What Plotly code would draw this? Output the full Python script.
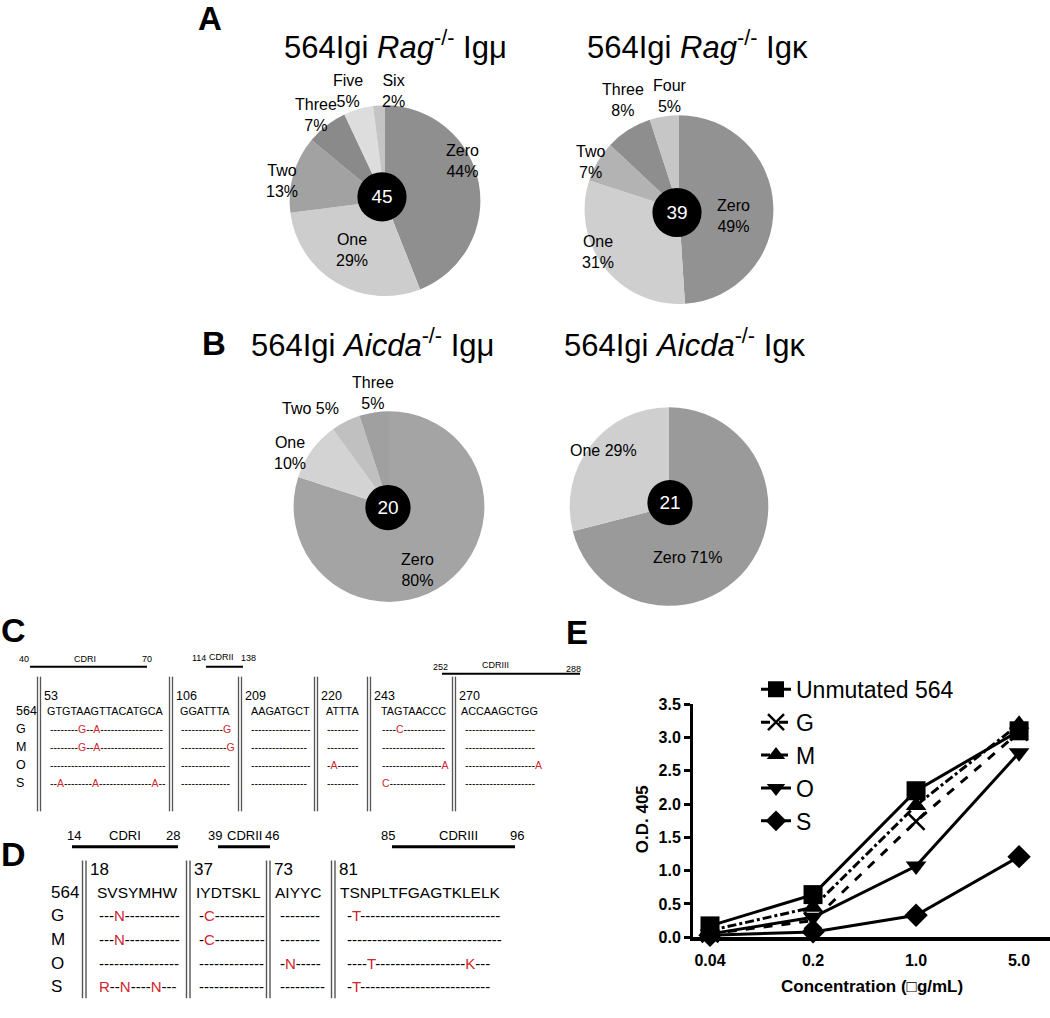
import plotly.graph_objects as go

W, H = 1050, 1018

# ---------------- Panel A / B : pie data ----------------
rag_mu_labels = ["Zero", "One", "Two", "Three", "Five", "Six"]
rag_mu_values = [44, 29, 13, 7, 5, 2]
rag_mu_total = 45
rag_k_labels = ["Zero", "One", "Two", "Three", "Four"]
rag_k_values = [49, 31, 7, 8, 5]
rag_k_total = 39
aicda_mu_labels = ["Zero", "One", "Two", "Three"]
aicda_mu_values = [80, 10, 5, 5]
aicda_mu_total = 20
aicda_k_labels = ["Zero", "One"]
aicda_k_values = [71, 29]
aicda_k_total = 21

# ---------------- Panel C : nucleotide alignment ----------------
c_positions = ["53", "106", "209", "220", "243", "270"]
c_reference = ["GTGTAAGTTACATGCA", "GGATTTA", "AAGATGCT", "ATTTA", "TAGTAACCC", "ACCAAGCTGG"]
c_clones = ["G", "M", "O", "S"]
c_rows = {
    "G": ["--------G--A------------------", "------------G", "-----------------", "---------",
          "----C------------", "--------------------"],
    "M": ["--------G--A------------------", "-------------G", "----------------", "---------",
          "------------------", "--------------------"],
    "O": ["---------------------------------", "--------------", "-----------------", "-A------",
          "-----------------A", "--------------------A"],
    "S": ["--A--------A---------------A--", "--------------", "----------------", "---------",
          "C----------------", "--------------------"],
}
c_cdr = [("40", "CDRI", "70"), ("114", "CDRII", "138"), ("252", "CDRIII", "288")]

# ---------------- Panel D : amino-acid alignment ----------------
d_positions = ["18", "37", "73", "81"]
d_reference = ["SVSYMHW", "IYDTSKL", "AIYYC", "TSNPLTFGAGTKLELK"]
d_clones = ["G", "M", "O", "S"]
d_rows = {
    "G": ["---N-----------", "-C----------", "--------", "-T----------------------------"],
    "M": ["---N-----------", "-C----------", "--------", "-------------------------------"],
    "O": ["----------------", "-------------", "-N-----", "----T------------------K---"],
    "S": ["R--N----N---", "-------------", "---------", "-T--------------------------"],
}
d_cdr = [("14", "CDRI", "28"), ("39", "CDRII", "46"), ("85", "CDRIII", "96")]

# ---------------- Panel E : ELISA ----------------
conc_labels = ["0.04", "0.2", "1.0", "5.0"]
od_unmutated = [0.17, 0.64, 2.20, 3.10]
od_G = [0.05, 0.25, 1.74, 3.08]
od_M = [0.10, 0.45, 1.98, 3.20]
od_O = [0.05, 0.30, 1.07, 2.77]
od_S = [0.03, 0.08, 0.33, 1.21]

# label placement (layout, pixels)
rag_mu_label_xy = [(462, 156), (352, 246), (282, 176), (316, 109), (348, 84), (393, 84)]
rag_k_label_xy = [(733, 212), (598, 248), (590, 157), (623, 94), (670, 90)]
aicda_mu_label_xy = [(417, 572), (290, 453), (310, 407), (373, 392)]
aicda_k_label_xy = [(687, 559), (603, 450)]


def X(px):
    return px / W


def Y(py):
    return 1 - py / H


fig = go.Figure()
annotations = []
shapes = []
ARIAL = "Arial, Liberation Sans, sans-serif"
RED = "#d0262d"


def ann(text, x, y, size, xanchor="center", yanchor="middle", color="black", family=ARIAL,
        weight="normal", textangle=0):
    annotations.append(dict(text=text, x=X(x), y=Y(y), xref="paper", yref="paper",
                            xanchor=xanchor, yanchor=yanchor, showarrow=False, textangle=textangle,
                            font=dict(size=size, color=color, family=family, weight=weight)))


def line(x0, y0, x1, y1, width, color="black"):
    shapes.append(dict(type="line", xref="paper", yref="paper", x0=X(x0), y0=Y(y0), x1=X(x1), y1=Y(y1),
                       line=dict(color=color, width=width)))


def add_pie(labels, values, colors, cx, cy, r, label_xy, seps, total, bcx, bcy, br):
    fig.add_trace(go.Pie(
        labels=labels, values=values, sort=False, direction="clockwise", rotation=0,
        marker=dict(colors=colors, line=dict(width=0)), textinfo="none",
        domain=dict(x=[X(cx - r), X(cx + r)], y=[Y(cy + r), Y(cy - r)]),
        showlegend=False, hoverinfo="skip"))
    for lab, val, (lx, ly), sep in zip(labels, values, label_xy, seps):
        ann("%s%s%d%%" % (lab, sep, val), lx, ly, 16)
    fig.add_trace(go.Pie(
        labels=["n"], values=[total], sort=False, marker=dict(colors=["black"], line=dict(width=0)),
        texttemplate="%{value}", textposition="inside",
        textfont=dict(family=ARIAL, size=19, color="white"),
        domain=dict(x=[X(bcx - br), X(bcx + br)], y=[Y(bcy + br), Y(bcy - br)]),
        showlegend=False, hoverinfo="skip"))


BR = "<br>"
# Panel A
add_pie(rag_mu_labels, rag_mu_values,
        ["#8f8f8f", "#cdcdcd", "#a2a2a2", "#8a8a8a", "#dddddd", "#c4c4c4"],
        385, 196, 97, rag_mu_label_xy, [BR] * 6, rag_mu_total, 382, 192, 25)
add_pie(rag_k_labels, rag_k_values,
        ["#929292", "#cfcfcf", "#b3b3b3", "#8e8e8e", "#c6c6c6"],
        679, 205, 96, rag_k_label_xy, [BR] * 5, rag_k_total, 677, 208, 25)
# Panel B
add_pie(aicda_mu_labels, aicda_mu_values,
        ["#a4a4a4", "#d3d3d3", "#c0c0c0", "#a0a0a0"],
        389, 507, 97, aicda_mu_label_xy, [BR, BR, " ", BR], aicda_mu_total, 388, 508, 23)
add_pie(aicda_k_labels, aicda_k_values,
        ["#9a9a9a", "#cfcfcf"],
        669, 507, 101, aicda_k_label_xy, [" ", " "], aicda_k_total, 670, 503, 23)

# Panel letters and titles
ann("A", 210, 11, 33, weight="bold")
ann("B", 214, 341, 33, weight="bold")
ann("C", 13, 633, 34, weight="bold")
ann("D", 13, 860, 34, weight="bold")
ann("E", 577, 635, 33, weight="bold")
ann("564Igi <i>Rag</i><sup>-/-</sup> Igμ", 395, 38, 31)
ann("564Igi <i>Rag</i><sup>-/-</sup> Igκ", 697, 38, 31)
ann("564Igi <i>Aicda</i><sup>-/-</sup> Igμ", 372, 341, 31)
ann("564Igi <i>Aicda</i><sup>-/-</sup> Igκ", 685, 341, 31)


def colorize(s):
    out = ""
    for ch in s:
        out += ch if ch == "-" else "<span style='color:%s'>%s</span>" % (RED, ch)
    return out


# ---------------- Panel C layout ----------------
c_bars = [(30, 147, 670), (206, 243, 670), (442, 580, 677)]
c_bar_labels = [((24, 662), (85, 662), (147, 662)), ((199, 661), (221, 660), (248, 661)),
                ((440, 670), (495, 668), (573, 672))]
for (x0, x1, yb), (l, m, rr), pos in zip(c_bars, c_cdr, c_bar_labels):
    line(x0, yb, x1, yb, 2)
    ann(l, pos[0][0], pos[0][1], 9)
    ann(m, pos[1][0], pos[1][1], 9)
    ann(rr, pos[2][0], pos[2][1], 9)
c_sep = [37.5, 169.5, 238.5, 314.5, 367.5, 452.5]
for xs in c_sep:
    line(xs, 680, xs, 817, 1.3, "#555555")
    line(xs + 3, 680, xs + 3, 817, 1.3, "#555555")
c_seg_start = [48, 179, 249, 325, 380, 463]
c_seg_center = [105, 205, 280, 342, 413, 499]
c_row_y = {"564": 715, "G": 733, "M": 752, "O": 770, "S": 788}
ann("564", 14, c_row_y["564"], 12.5, xanchor="left")
for i, p in enumerate(c_positions):
    ann(p, c_sep[i] + 4, 700, 12.5, xanchor="left")
    ann(c_reference[i], c_seg_center[i], c_row_y["564"], 10.8)
for cl in c_clones:
    ann(cl, 14, c_row_y[cl], 12.5, xanchor="left")
    for i, s in enumerate(c_rows[cl]):
        ann(colorize(s), c_seg_start[i], c_row_y[cl], 10.5, xanchor="left")

# ---------------- Panel D layout ----------------
d_bars = [(72, 178), (218, 270), (392, 515)]
d_bar_labels = [(74, 125, 173), (215, 244, 272), (388, 458, 517)]
for (x0, x1), (l, m, rr), (xl, xm, xr) in zip(d_bars, d_cdr, d_bar_labels):
    line(x0, 853, x1, 853, 3)
    ann(l, xl, 842, 13)
    ann(m, xm, 842, 13)
    ann(rr, xr, 842, 13)
d_sep = [82.5, 186.5, 266.5, 331.5]
for xs in d_sep:
    line(xs, 867, xs, 1007, 1.4, "#555555")
    line(xs + 3.5, 867, xs + 3.5, 1007, 1.4, "#555555")
d_seg_start = [97, 197, 278, 345]
d_seg_center = [137, 228, 298, 420]
d_row_y = {"564": 900, "G": 923, "M": 947, "O": 972, "S": 995}
ann("564", 49, d_row_y["564"], 17, xanchor="left")
for i, p in enumerate(d_positions):
    ann(p, d_sep[i] + 5, 876, 17, xanchor="left")
    ann(d_reference[i], d_seg_center[i], d_row_y["564"], 15.5)
for cl in d_clones:
    ann(cl, 49, d_row_y[cl], 17, xanchor="left")
    for i, s in enumerate(d_rows[cl]):
        ann(colorize(s), d_seg_start[i], d_row_y[cl], 15, xanchor="left")

# ---------------- Panel E ----------------
series = [
    ("Unmutated 564", od_unmutated, "square", "solid", 19),
    ("G", od_G, "x-thin", "dash", 17),
    ("M", od_M, "triangle-up", "dashdot", 18),
    ("O", od_O, "triangle-down", "solid", 18),
    ("S", od_S, "diamond", "solid", 18),
]
for name, vals, sym, dash, size in series:
    mk = dict(symbol=sym, size=size, color="black")
    if sym == "x-thin":
        mk["line"] = dict(width=2.5, color="black")
    fig.add_trace(go.Scatter(x=conc_labels, y=vals, name=name, mode="lines+markers",
                             line=dict(color="black", width=3, dash=dash), marker=mk,
                             xaxis="x", yaxis="y", cliponaxis=False))

ann("O.D. 405", 642, 825, 17, weight="bold", textangle=-90)
ann("Concentration (□g/mL)", 872, 995, 17, weight="bold")

fig.update_layout(
    width=W, height=H, margin=dict(l=0, r=0, t=0, b=0),
    paper_bgcolor="white", plot_bgcolor="white",
    font=dict(family=ARIAL, color="black"),
    xaxis=dict(domain=[X(693), 1.0], type="category", range=[-0.165, 3.3],
               showline=True, linewidth=3.5, linecolor="black", showgrid=False, zeroline=False,
               ticks="outside", ticklen=6, tickwidth=2.5, tickcolor="rgba(0,0,0,0)",
               tickfont=dict(size=16, family=ARIAL, weight="bold", color="black")),
    yaxis=dict(domain=[Y(945), Y(708)], range=[0, 3.5], dtick=0.5, tickformat=".1f",
               showline=True, linewidth=3, linecolor="black", showgrid=False, zeroline=False,
               ticks="outside", ticklen=6, tickwidth=2.5, tickcolor="black",
               tickfont=dict(size=16, family=ARIAL, weight="bold", color="black")),
    legend=dict(x=X(756), y=Y(671), xanchor="left", yanchor="top", bgcolor="rgba(0,0,0,0)",
                font=dict(size=23, family=ARIAL, color="black"), tracegroupgap=0),
    annotations=annotations, shapes=shapes,
)

fig.write_html("out.html", config={"displayModeBar": False},
               post_script="document.body.style.margin='0px';")
